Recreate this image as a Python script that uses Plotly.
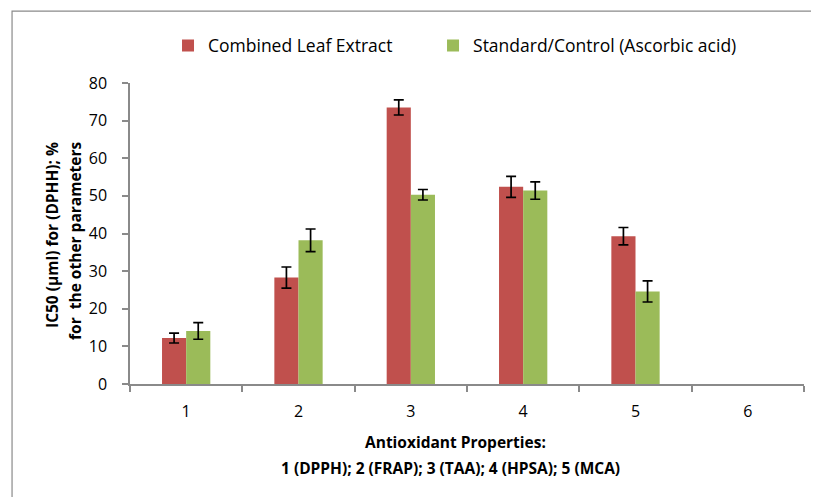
import plotly.graph_objects as go

categories = ["1", "2", "3", "4", "5", "6"]
extract_vals = [12.2, 28.3, 73.5, 52.4, 39.3, None]
extract_err = [1.3, 2.8, 2.0, 2.8, 2.3, None]
control_vals = [14.1, 38.2, 50.3, 51.4, 24.6, None]
control_err = [2.2, 3.0, 1.4, 2.3, 2.8, None]
y_ticks = [0, 10, 20, 30, 40, 50, 60, 70, 80]

x_title_lines = ["Antioxidant Properties:", "1 (DPPH); 2 (FRAP); 3 (TAA); 4 (HPSA); 5 (MCA)"]
y_title_lines = ["IC50 (µml) for (DPHH); %", "for  the other parameters"]

FONT = "Open Sans, Liberation Sans, sans-serif"
AX = "#8a8a8a"

fig = go.Figure()
fig.add_trace(go.Bar(
    name="Combined Leaf Extract", x=categories, y=extract_vals,
    marker=dict(color="#C0504D", line=dict(width=0)),
    error_y=dict(type="data", array=extract_err, visible=True,
                 color="black", thickness=1.7, width=5),
    legend="legend", showlegend=True,
))
fig.add_trace(go.Bar(
    name="Standard/Control (Ascorbic acid)", x=categories, y=control_vals,
    marker=dict(color="#9BBB59", line=dict(width=0)),
    error_y=dict(type="data", array=control_err, visible=True,
                 color="black", thickness=1.7, width=5),
    legend="legend2", showlegend=True,
))

legend_style = dict(orientation="h", y=1.124, xanchor="left", yanchor="middle",
                    font=dict(size=17.5), itemwidth=30, bgcolor="rgba(0,0,0,0)",
                    visible=True)

fig.update_layout(
    width=819, height=497,
    margin=dict(l=122, r=23, t=75, b=121),
    paper_bgcolor="white", plot_bgcolor="white",
    showlegend=True,
    barmode="group", bargap=0.57, bargroupgap=0,
    font=dict(family=FONT, size=16, color="black"),
    legend=dict(x=0.0564, **legend_style),
    legend2=dict(x=0.4496, **legend_style),
    xaxis=dict(type="category", categoryarray=categories, range=[-0.5, 5.5],
               showline=True, linecolor=AX, linewidth=1.5,
               ticks="outside", tickson="boundaries", ticklen=6, tickcolor=AX, tickwidth=1.5,
               tickfont=dict(size=16), ticklabelstandoff=12,
               showgrid=False, zeroline=False),
    yaxis=dict(range=[0, 80], tickvals=y_ticks, showline=True, linecolor=AX, linewidth=1.5,
               ticks="outside", ticklen=6, tickcolor=AX, tickwidth=1.5,
               tickfont=dict(size=16), ticklabelstandoff=12,
               showgrid=False, zeroline=False),
)

# x-axis title (two lines, Excel-like spacing)
for txt, xpos, ypos in zip(x_title_lines, [0.483, 0.476], [-0.193, -0.278]):
    fig.add_annotation(text="<b>" + txt + "</b>", xref="paper", yref="paper",
                       x=xpos, y=ypos, xanchor="center", yanchor="middle",
                       showarrow=False, font=dict(size=15.5))

# y-axis title (two rotated lines, aligned at the top)
for txt, xpos in zip(y_title_lines, [-0.116, -0.082]):
    fig.add_annotation(text="<b>" + txt + "</b>", xref="paper", yref="paper",
                       x=xpos, y=0.81, xanchor="center", yanchor="top",
                       textangle=-90, showarrow=False, font=dict(size=15.5))

fig.add_shape(type="rect", xref="paper", yref="paper",
              x0=-0.175, x1=1.2, y0=-0.5, y1=1.239,
              line=dict(color=AX, width=1.2), fillcolor="rgba(0,0,0,0)", layer="below")

fig.write_html("out.html")
